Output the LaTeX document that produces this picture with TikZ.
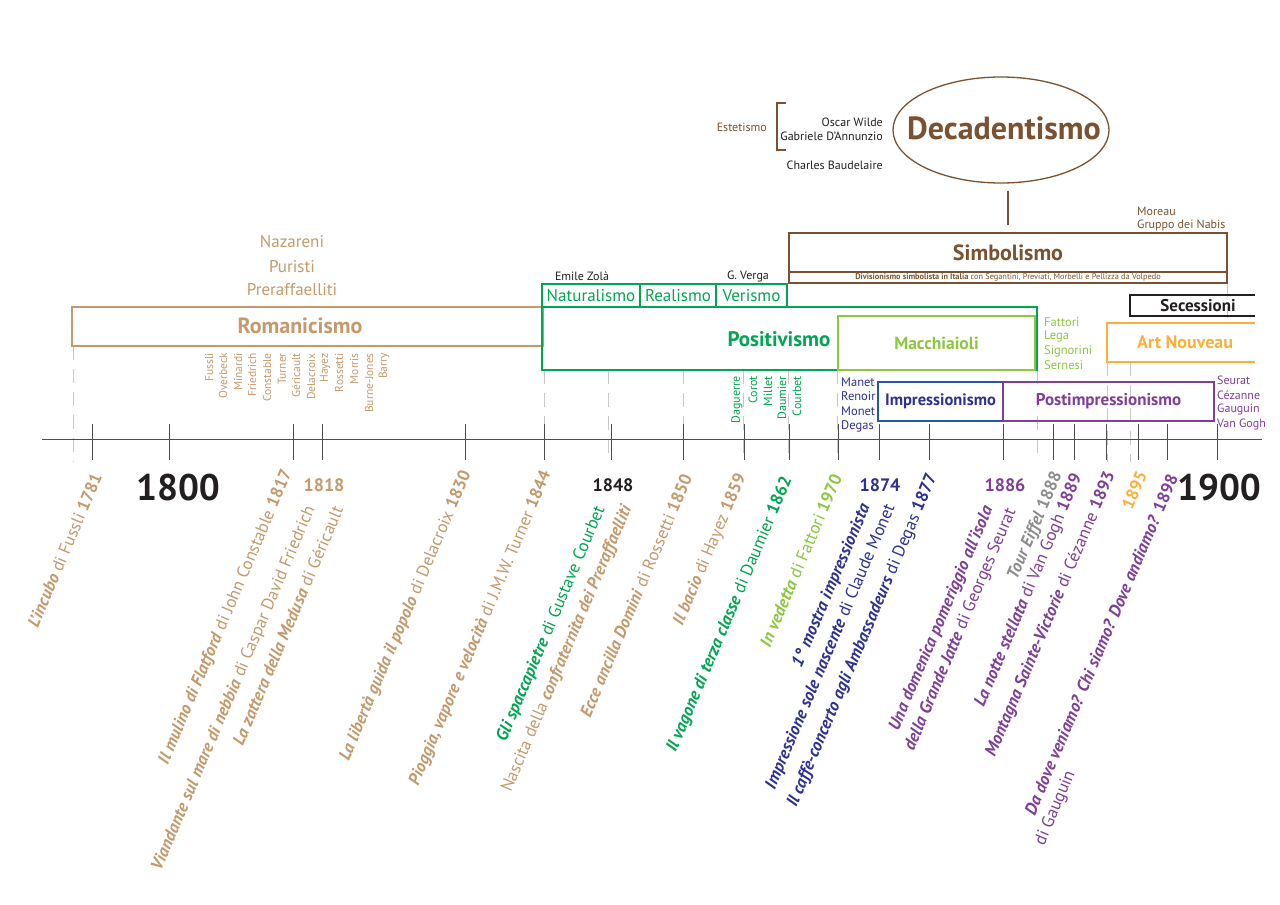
\documentclass[tikz,border=0pt]{standalone}
\usepackage{fontspec}
\setmainfont{PT Sans}
\usetikzlibrary{shapes.geometric}
\definecolor{tan}{HTML}{C49A6C}
\definecolor{brown}{HTML}{7B5230}
\definecolor{grn}{HTML}{00A651}
\definecolor{lgrn}{HTML}{8DC63F}
\definecolor{navy}{HTML}{2E3192}
\definecolor{iblue}{HTML}{2358A6}
\definecolor{purp}{HTML}{7F3F98}
\definecolor{orng}{HTML}{FBB03B}
\definecolor{gry}{HTML}{8C8C8C}
\definecolor{blk}{HTML}{231F20}
\definecolor{axisgray}{HTML}{4D4D4D}
\definecolor{guidegray}{HTML}{C8C8C8}
\newcommand\fsz[1]{\fontsize{#1}{#1}\selectfont}
\newcommand\bi[1]{\textbf{\textit{#1}}}
\begin{document}
\begin{tikzpicture}[x=1pt,y=-1pt,
  rl/.style={rotate=67,anchor=east,inner sep=0pt,font=\fsz{17.2}},
  vn/.style={rotate=90,anchor=east,inner sep=0pt,font=\fsz{11.5}},
  lb/.style={inner sep=0pt},
  box/.style={draw,line width=1.5pt,rectangle,inner sep=0pt},
  tk/.style={draw=axisgray,line width=0.8pt},
  guide/.style={draw=guidegray,line width=0.8pt,dash pattern=on 14pt off 9pt}]
\fill[white] (0,0) rectangle (1280,905);
\path[use as bounding box] (0,0) rectangle (1280,905);

% guides
\foreach \x/\ya in {73/346,544/370,608/370,683/370,743/370,788/370,837/370,1037/370,1107/362,1130/362}
  \draw[guide] (\x,\ya) -- (\x,462);
\draw[guide] (1227,283) -- (1227,318);

% axis
\draw[axisgray,line width=1pt] (42,439) -- (1262,439);
\foreach \x in {92,169,293,322,465,544,611,683,744,789,838,879,929,1003,1053,1074,1106,1138,1167,1217}
  \draw[tk] (\x,424) -- (\x,460);

% Decadentismo
\node[ellipse,draw=brown,line width=1.3pt,minimum width=216pt,minimum height=106pt,inner sep=0pt] (dec) at (1001,130) {};
\node[lb,anchor=base,text=brown,font=\fsz{32}\bfseries] (dect) at (1004,139) {Decadentismo};
\draw[brown,line width=1.3pt] (786,103) -- (777,103) -- (777,150) -- (786,150);
\node[lb,anchor=east,text=brown,font=\fsz{12}] (est) at (767,127) {Estetismo};
\node[lb,anchor=east,text=blk,font=\fsz{12}] (wilde) at (883,122) {Oscar Wilde};
\node[lb,anchor=east,text=blk,font=\fsz{12}] (dann) at (883,136) {Gabriele D’Annunzio};
\node[lb,anchor=east,text=blk,font=\fsz{12}] (baud) at (883,165) {Charles Baudelaire};

% Simbolismo
\node[box,draw=brown,minimum width=438pt,minimum height=39pt,text=brown,font=\fsz{22}\bfseries] (simb) at (1008,252.5) {Simbolismo};
\node[box,draw=brown,minimum width=438pt,minimum height=11pt,text=brown,font=\fsz{8.3}] (divis) at (1008,277.5)
  {\textbf{Divisionismo simbolista in Italia} con Segantini, Previati, Morbelli e Pellizza da Volpedo};
\draw[brown,line width=1.5pt,shorten <=7pt,shorten >=7pt] (dec.south -| simb.north) -- (simb.north);
\node[lb,anchor=west,text=brown,font=\fsz{12}] (moreau) at (1137,211) {Moreau};
\node[lb,anchor=west,text=brown,font=\fsz{12}] (nabis) at (1137,225) {Gruppo dei Nabis};

% Romanicismo
\node[lb,text=tan,font=\fsz{17}] (naz) at (292,242) {Nazareni};
\node[lb,text=tan,font=\fsz{17}] (pur) at (292,267) {Puristi};
\node[lb,text=tan,font=\fsz{17}] (prer) at (292,290) {Preraffaelliti};
\node[box,draw=tan,minimum width=471pt,minimum height=39pt] (roman) at (307.5,326.5) {};
\node[lb,text=tan,font=\fsz{22}\bfseries] (romt) at (300,326) {Romanicismo};
\foreach \n/\x [count=\i] in {Fussli/209,Overbeck/223,Minardi/238,Friedrich/252,Constable/267,Turner/282,Géricault/296,Delacroix/311,Hayez/325,Rossetti/339,Morris/354,Burne-Jones/369,Barry/384}
  \node[vn,text=tan] (rn\i) at (\x,353) {\n};

% Positivismo
\node[lb,text=blk,font=\fsz{12}] (zola) at (582,276) {Emile Zolà};
\node[lb,text=blk,font=\fsz{12}] (verga) at (748,276) {G. Verga};
\node[box,draw=grn,minimum width=98pt,minimum height=23pt,text=grn,font=\fsz{17}] (nat) at (591,295.5) {Naturalismo};
\node[box,draw=grn,minimum width=76pt,minimum height=23pt,text=grn,font=\fsz{17}] (real) at (678,295.5) {Realismo};
\node[box,draw=grn,minimum width=71pt,minimum height=23pt,text=grn,font=\fsz{17}] (ver) at (751.5,295.5) {Verismo};
\node[box,draw=grn,minimum width=495pt,minimum height=63pt] (pos) at (789.5,338.5) {};
\node[lb,text=grn,font=\fsz{21}\bfseries] (post) at (779,339) {Positivismo};
\node[box,draw=lgrn,minimum width=197pt,minimum height=54pt,text=lgrn,font=\fsz{17.5}\bfseries] (mac) at (936.5,343) {Macchiaioli};
\foreach \n/\x [count=\i] in {Daguerre/737,Corot/753,Millet/768,Daumier/782,Courbet/797}
  \node[vn,text=grn,font=\fsz{12}] (pn\i) at (\x,376) {\n};
\foreach \n/\y [count=\i] in {Fattori/322,Lega/336,Signorini/351,Sernesi/365}
  \node[lb,anchor=west,text=lgrn,font=\fsz{12.5}] (mn\i) at (1044,\y) {\n};

% Impressionismo / Postimpressionismo
\foreach \n/\y [count=\i] in {Manet/382,Renoir/396,Monet/411,Degas/426}
  \node[lb,anchor=west,text=navy,font=\fsz{12.5}] (in\i) at (841,\y) {\n};
\node[box,draw=iblue,minimum width=125pt,minimum height=39pt,text=navy,font=\fsz{16.5}\bfseries] (imp) at (940.5,401.5) {Impressionismo};
\node[box,draw=purp,minimum width=211pt,minimum height=39pt,text=purp,font=\fsz{17}\bfseries] (postimp) at (1108.5,401.5) {Postimpressionismo};
\foreach \n/\y [count=\i] in {Seurat/380,Cézanne/395,Gauguin/409,Van Gogh/424}
  \node[lb,anchor=west,text=purp,font=\fsz{12}] (sn\i) at (1217,\y) {\n};

% Secessioni / Art Nouveau
\draw[blk,line width=1.5pt] (1255,295) -- (1130,295) -- (1130,316) -- (1255,316);
\node[lb,text=blk,font=\fsz{17}\bfseries] (sec) at (1198,306) {Secessioni};
\draw[orng,line width=1.5pt] (1255,323) -- (1107,323) -- (1107,362) -- (1255,362);
\node[lb,text=orng,font=\fsz{18}\bfseries] (art) at (1185,342) {Art Nouveau};

% horizontal years
\node[lb,text=blk,font=\fsz{37}\bfseries] (y1800) at (178,488) {1800};
\node[lb,text=tan,font=\fsz{18}\bfseries] (y1818) at (324,485) {1818};
\node[lb,text=blk,font=\fsz{18}\bfseries] (y1848) at (613,485) {1848};
\node[lb,text=navy,font=\fsz{18}\bfseries] (y1874) at (880,485) {1874};
\node[lb,text=purp,font=\fsz{18}\bfseries] (y1886) at (1005,485) {1886};
\node[lb,text=blk,font=\fsz{37}\bfseries] (y1900) at (1219,488) {1900};

% rotated labels
\node[rl,text=tan] (r1) at (97,474) {\bi{L’incubo} di Fussli \textbf{1781}};
\node[rl,text=tan] (r2) at (288,471) {\bi{Il mulino di Flatford} di John Constable \textbf{1817}};
\node[rl,text=tan] (r3) at (311,507) {\bi{Viandante sul mare di nebbia} di Caspar David Friedrich};
\node[rl,text=tan] (r4) at (338,507) {\bi{La zattera della Medusa} di Géricault};
\node[rl,text=tan] (r5) at (467,472) {\bi{La libertà guida il popolo} di Delacroix \textbf{1830}};
\node[rl,text=tan] (r6) at (547,472) {\bi{Pioggia, vapore e velocità} di J.M.W. Turner \textbf{1844}};
\node[rl,text=grn] (r7) at (601,507) {\bi{Gli spaccapietre} di Gustave Courbet};
\node[rl,text=tan] (r8) at (628,506) {Nascita della \bi{confraternita dei Preraffaelliti}};
\node[rl,text=tan] (r9) at (687,475) {\bi{Ecce ancilla Domini} di Rossetti \textbf{1850}};
\node[rl,text=tan] (r10) at (742,475) {\bi{Il bacio} di Hayez \textbf{1859}};
\node[rl,text=grn] (r11) at (788,478) {\bi{Il vagone di terza classe} di Daumier \textbf{1862}};
\node[rl,text=lgrn] (r12) at (837,475) {\bi{In vedetta} di Fattori \textbf{1970}};
\node[rl,text=navy] (r13) at (866,505) {\bi{1° mostra impressionista}};
\node[rl,text=navy] (r14) at (891,505) {\bi{Impressione sole nascente} di Claude Monet};
\node[rl,text=navy] (r15) at (933,475) {\bi{Il caffè-concerto agli Ambassadeurs} di Degas \textbf{1877}};
\node[rl,text=purp] (r16) at (989,507) {\bi{Una domenica pomeriggio all’isola}};
\node[rl,text=purp] (r17) at (1012,509) {\bi{della Grande Jatte} di Georges Seurat};
\node[rl,text=gry] (r18) at (1058,473) {\bi{Tour Eiffel} \textbf{1888}};
\node[rl,text=purp] (r19) at (1078,475) {\bi{La notte stellata} di Van Gogh \textbf{1889}};
\node[rl,text=purp] (r20) at (1111,473) {\bi{Montagna Sainte-Victorie} di Cézanne \textbf{1893}};
\node[rl,text=orng] (r21) at (1142,472) {\textbf{1895}};
\node[rl,text=purp] (r22) at (1173,475) {\bi{Da dove veniamo? Chi siamo? Dove andiamo?} \textbf{1898}};
\node[rl,anchor=west,text=purp] (r23) at (1040,845) {di Gauguin};
\end{tikzpicture}
\end{document}
